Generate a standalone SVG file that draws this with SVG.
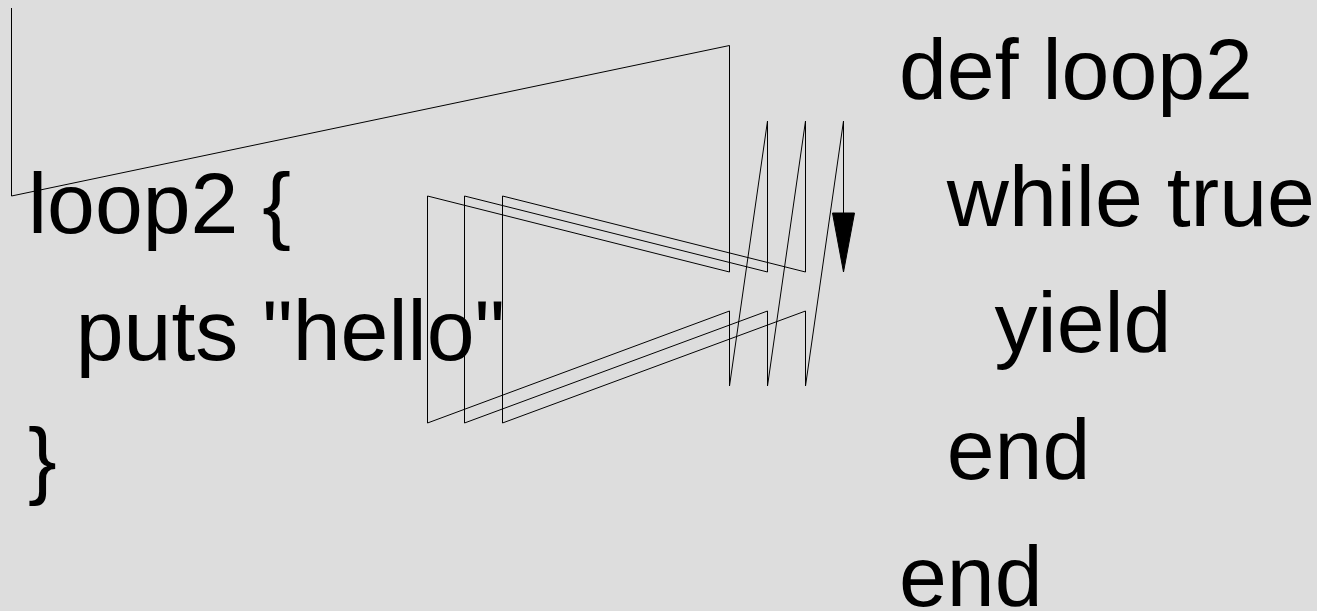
<svg xmlns="http://www.w3.org/2000/svg" width="1317" height="611" viewBox="0 0 1317 611">
<style>
.code{font-family:"Liberation Sans",Arial,Helvetica,sans-serif;font-size:86px;fill:#000;white-space:pre}
.wire{fill:none;stroke:#000;stroke-width:1}
.head{fill:#000;stroke:#000;stroke-width:1}
</style>
<rect x="0" y="0" width="1317" height="611" fill="#dddddd"/>
<g id="caller">
<text class="code" x="28" y="233" xml:space="preserve">loop2 {</text>
<text class="code" x="28" y="360" xml:space="preserve">  puts "hello"</text>
<text class="code" x="28" y="488" xml:space="preserve">}</text>
</g>
<g id="definition">
<text class="code" x="899" y="99" xml:space="preserve">def loop2</text>
<text class="code" x="899" y="226" xml:space="preserve">  while true</text>
<text class="code" x="899" y="352" xml:space="preserve">    yield</text>
<text class="code" x="899" y="479" xml:space="preserve">  end</text>
<text class="code" x="899" y="606" xml:space="preserve">end</text>
</g>
<g id="connectors">
<path class="wire" d="M11.5,8 L11.5,196 L729.5,45.5 L729.5,272 L427.5,196 L427.5,423 L729.5,311 L729.5,386 L767.5,121 L767.5,272 L464.5,196 L464.5,423 L767.5,311 L767.5,386 L805.5,121 L805.5,272 L502.5,196 L502.5,423 L805.5,311 L805.5,386 L843.5,121 L843.5,213"/>
<polygon class="head" points="832.5,213 854.5,213 843.5,272"/>
</g>
</svg>
